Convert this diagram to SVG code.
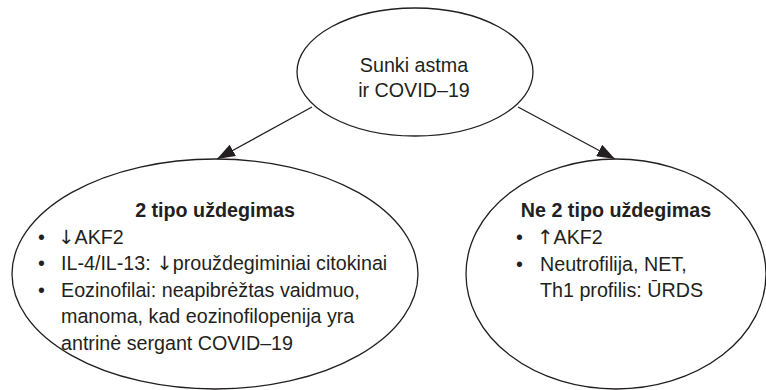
<svg xmlns="http://www.w3.org/2000/svg" width="766" height="390" viewBox="0 0 766 390">
<defs>
<style>
.node{fill:#ffffff;stroke:#231f20;stroke-width:1.3}
.t{font-family:"Liberation Sans",Arial,sans-serif;font-size:19.7px;fill:#231f20}
.b{font-weight:bold}
.c{text-anchor:middle}
.ar{font-family:"DejaVu Sans",sans-serif;fill:#231f20}
.edge{stroke:#231f20;stroke-width:1.3;fill:none}
</style>
<marker id="ah" viewBox="0 0 18 13" markerWidth="18" markerHeight="13" refX="18" refY="6.5" orient="auto" markerUnits="userSpaceOnUse">
<path d="M0,0 L18,6.5 L0,13 z" fill="#231f20"/>
</marker>
</defs>
<rect width="766" height="390" fill="#ffffff"/>
<g id="connectors">
<line class="edge" x1="312" y1="107" x2="217" y2="159" marker-end="url(#ah)"/>
<line class="edge" x1="518" y1="107" x2="615" y2="159" marker-end="url(#ah)"/>
</g>
<g id="top">
<ellipse class="node" cx="415" cy="72" rx="118" ry="64"/>
<text class="t c" x="414" y="72">Sunki astma</text>
<text class="t c" x="414" y="97">ir COVID–19</text>
</g>
<g id="left">
<ellipse class="node" cx="215" cy="274" rx="203" ry="115"/>
<text class="t b c" x="215" y="217">2 tipo uždegimas</text>
<text class="t" x="38" y="244">•</text>
<text class="t" x="58" y="244"><tspan class="ar">↓</tspan>AKF2</text>
<text class="t" x="38" y="270">•</text>
<text class="t" x="61" y="270">IL-4/IL-13: <tspan class="ar">↓</tspan>prouždegiminiai citokinai</text>
<text class="t" x="38" y="297">•</text>
<text class="t" x="61" y="297">Eozinofilai: neapibrėžtas vaidmuo,</text>
<text class="t" x="61" y="323">manoma, kad eozinofilopenija yra</text>
<text class="t" x="61" y="350">antrinė sergant COVID–19</text>
</g>
<g id="right">
<ellipse class="node" cx="616" cy="274" rx="150" ry="115"/>
<text class="t b c" x="616" y="217">Ne 2 tipo uždegimas</text>
<text class="t" x="516" y="244">•</text>
<text class="t" x="537" y="244"><tspan class="ar">↑</tspan>AKF2</text>
<text class="t" x="516" y="271">•</text>
<text class="t" x="540" y="271">Neutrofilija, NET,</text>
<text class="t" x="540" y="297">Th1 profilis: ŪRDS</text>
</g>
</svg>
